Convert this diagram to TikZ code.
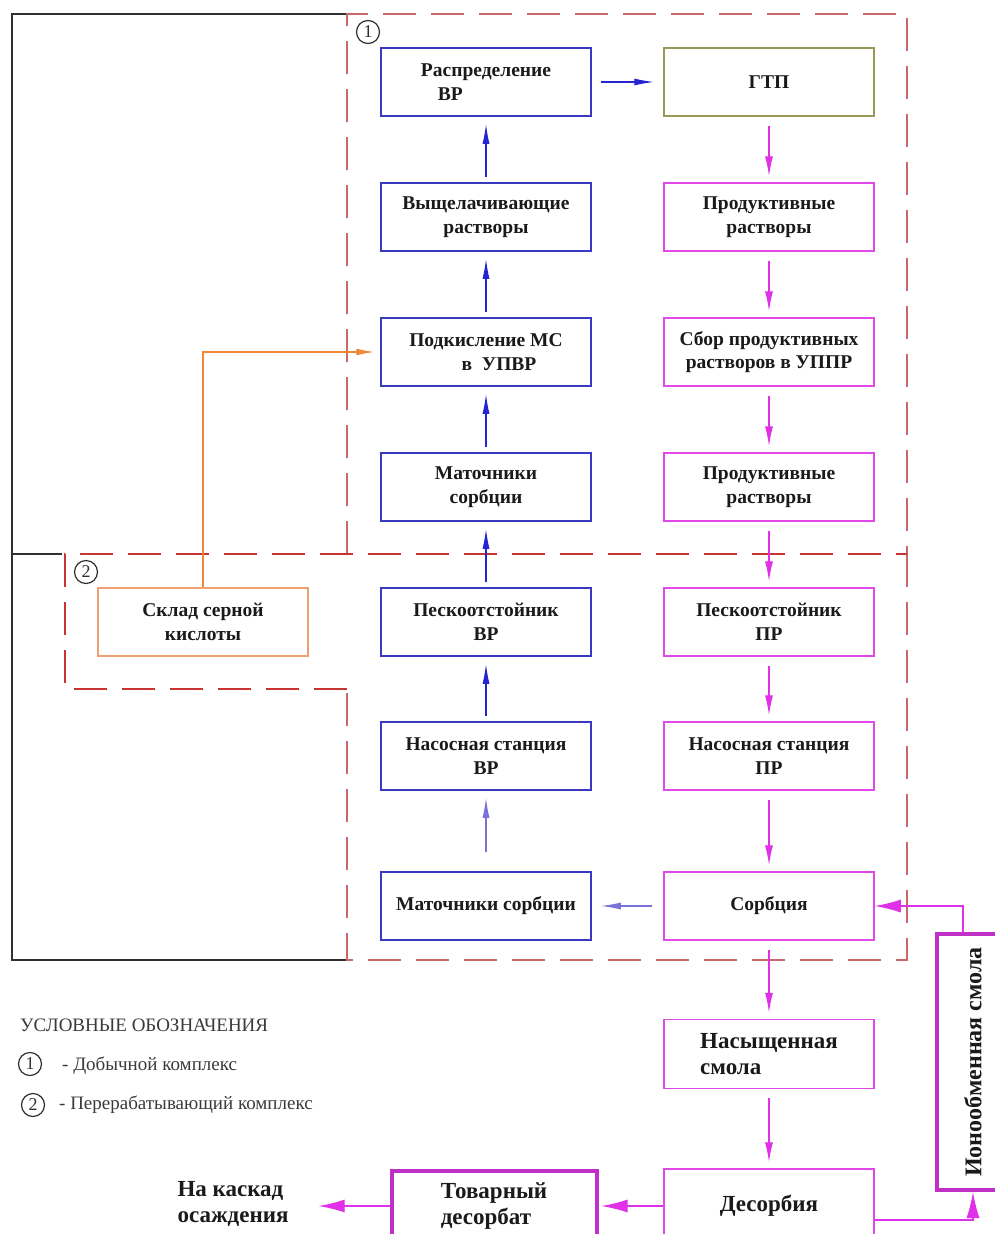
\documentclass[tikz,border=0pt]{standalone}
\usepackage{fontspec}
\usepackage{graphicx}
\setmainfont{Liberation Serif}
\usetikzlibrary{arrows.meta,calc}
\definecolor{cblue}{HTML}{3A3AC0}
\definecolor{cablue}{HTML}{2424D0}
\definecolor{clav}{HTML}{7A72D8}
\definecolor{cmag}{HTML}{E048E8}
\definecolor{camag}{HTML}{E030E8}
\definecolor{cthick}{HTML}{C030C8}
\definecolor{colive}{HTML}{9A9A58}
\definecolor{corange}{HTML}{F0A070}
\definecolor{caorange}{HTML}{F08838}
\definecolor{credA}{HTML}{C86868}
\definecolor{credB}{HTML}{C83434}
\definecolor{cframe}{HTML}{303030}
\definecolor{ctext}{HTML}{1A1A1A}
\definecolor{cleg}{HTML}{3A3A3A}
\newcommand\boxfont{\bfseries\fontsize{19.5bp}{23.5bp}\selectfont}
\newcommand\bigfont{\bfseries\fontsize{23bp}{26bp}\selectfont}
\newcommand\ionfont{\bfseries\fontsize{24bp}{26bp}\selectfont}
\newcommand\legfont{\fontsize{19bp}{21bp}\selectfont}
\tikzset{
  basebox/.style={minimum width=210bp, minimum height=68bp, inner sep=0pt,
    line width=1.5bp, font=\boxfont, text=ctext, align=center},
  bluebox/.style={basebox, draw=cblue},
  magbox/.style={basebox, draw=cmag},
  olivebox/.style={basebox, draw=colive},
  orangebox/.style={basebox, draw=corange},
  thickbox/.style={basebox, draw=cthick, line width=4bp, font=\bigfont},
  plainmag/.style={basebox, draw=cmag, font=\bigfont},
  barrow/.style={draw=cablue, line width=1.3bp, -{Latex[length=20bp,width=7bp]},
    shorten <=5bp, shorten >=7bp},
  larrow/.style={draw=clav, line width=1.3bp, -{Latex[length=20bp,width=7bp]}},
  marrow/.style={draw=camag, line width=1.3bp, -{Latex[length=20bp,width=8bp]},
    shorten <=9bp, shorten >=6bp},
  bigarrow/.style={draw=camag, line width=1.3bp, -{Latex[length=26bp,width=13bp]}},
  oarrow/.style={draw=caorange, line width=1.3bp, -{Latex[length=18bp,width=7bp]}},
  frameline/.style={draw=cframe, line width=2bp},
  dashA/.style={draw=credA, line width=2bp, dash pattern=on 33bp off 15bp},
  dashB/.style={draw=credB, line width=2.2bp, dash pattern=on 33bp off 15bp},
  numcirc/.style={circle, draw=cframe, line width=1.2bp, minimum size=23bp,
    inner sep=0pt, font=\fontsize{18bp}{18bp}\selectfont, text=cframe},
}
\begin{document}
\begin{tikzpicture}[x=1bp,y=-1bp]
\useasboundingbox (0,0) rectangle (995,1234);
\clip (0,0) rectangle (995,1234);
\fill[white] (0,0) rectangle (995,1234);

% frames
\draw[frameline] (347,14) -- (12,14) -- (12,960) -- (347,960);
\draw[frameline] (12,554) -- (62,554);
\draw[dashA] (347,554) -- (347,14) -- (907,14) -- (907,554);
\draw[dashA] (907,554) -- (907,960) -- (347,960) -- (347,689);
\draw[dashB] (347,689) -- (65,689) -- (65,554) -- (907,554);

\node[numcirc] (c1) at (368,32) {1};
\node[numcirc] (c2) at (86,572) {2};

% left column
\node[bluebox, align=left] (raspr) at (486,82) {Распределение\\\hspace*{17bp}ВР};
\node[bluebox] (vysh) at (486,217) {Выщелачивающие\\растворы};
\node[bluebox] (podk) at (486,352) {Подкисление МС\\\hspace*{26bp}в\ \ УПВР};
\node[bluebox] (mat1) at (486,487) {Маточники\\сорбции};
\node[bluebox] (pesk1) at (486,622) {Пескоотстойник\\ВР};
\node[bluebox] (nas1) at (486,756) {Насосная станция\\ВР};
\node[bluebox] (mat2) at (486,906) {Маточники сорбции};

% right column
\node[olivebox] (gtp) at (769,82) {ГТП};
\node[magbox] (prod1) at (769,217) {Продуктивные\\растворы};
\node[magbox] (sbor) at (769,352) {Сбор продуктивных\\растворов в УППР};
\node[magbox] (prod2) at (769,487) {Продуктивные\\растворы};
\node[magbox] (pesk2) at (769,622) {Пескоотстойник\\ПР};
\node[magbox] (nas2) at (769,756) {Насосная станция\\ПР};
\node[magbox] (sorb) at (769,906) {Сорбция};
\node[plainmag, align=left, minimum height=69bp] (nasysh) at (769,1054) {Насыщенная\\смола};
\node[plainmag, minimum height=74bp] (desorb) at (769,1206) {Десорбия};
\node[thickbox, align=left, minimum width=205bp, minimum height=70bp] (tovar) at (494,1206) {Товарный\\десорбат};
\node[thickbox, minimum width=72bp, minimum height=256bp] (ion) at (973,1062) {\rotatebox{90}{\ionfont Ионообменная смола}};
\node[font=\bigfont, text=ctext, align=left, inner sep=0pt] (kaskad) at (233,1204) {На каскад\\осаждения};

% sulfuric acid store
\node[orangebox] (sklad) at (203,622) {Склад серной\\кислоты};

% legend
\node[font=\legfont, text=cleg, anchor=west, inner sep=0pt] (legt) at (20,1025) {УСЛОВНЫЕ ОБОЗНАЧЕНИЯ};
\node[numcirc] (l1) at (30,1064) {1};
\node[font=\legfont, text=cleg, anchor=west, inner sep=0pt] (l1t) at (62,1066) {- Добычной комплекс};
\node[numcirc] (l2) at (33,1105) {2};
\node[font=\legfont, text=cleg, anchor=west, inner sep=0pt] (l2t) at (59,1105) {- Перерабатывающий комплекс};

% blue arrows
\draw[barrow] (vysh) -- (raspr);
\draw[barrow] (podk) -- (vysh);
\draw[barrow] (mat1) -- (podk);
\draw[barrow] (pesk1) -- (mat1);
\draw[barrow] (nas1) -- (pesk1);
\draw[larrow, shorten <=19bp, shorten >=7bp] (mat2) -- (nas1);
\draw[barrow, shorten <=9bp, shorten >=9bp] (raspr) -- (gtp);

% magenta arrows
\draw[marrow] (gtp) -- (prod1);
\draw[marrow] (prod1) -- (sbor);
\draw[marrow] (sbor) -- (prod2);
\draw[marrow] (prod2) -- (pesk2);
\draw[marrow] (pesk2) -- (nas2);
\draw[marrow] (nas2) -- (sorb);
\draw[marrow] (sorb) -- (nasysh);
\draw[marrow] (nasysh) -- (desorb);
\draw[larrow, shorten <=11bp, shorten >=9bp] (sorb) -- (mat2);

% orange
\draw[oarrow, shorten >=6bp] (sklad.north) |- (podk.west);

% resin loop
\draw[bigarrow] ([xshift=-10bp]ion.north) |- (sorb.east);
\draw[bigarrow] ([yshift=-14bp]desorb.east) -| (ion.south);
\draw[bigarrow, shorten >=3bp] (desorb.west) -- (tovar.east);
\draw[bigarrow, shorten >=30bp] (tovar.west) -- (tovar.west -| kaskad.east);
\end{tikzpicture}
\end{document}
